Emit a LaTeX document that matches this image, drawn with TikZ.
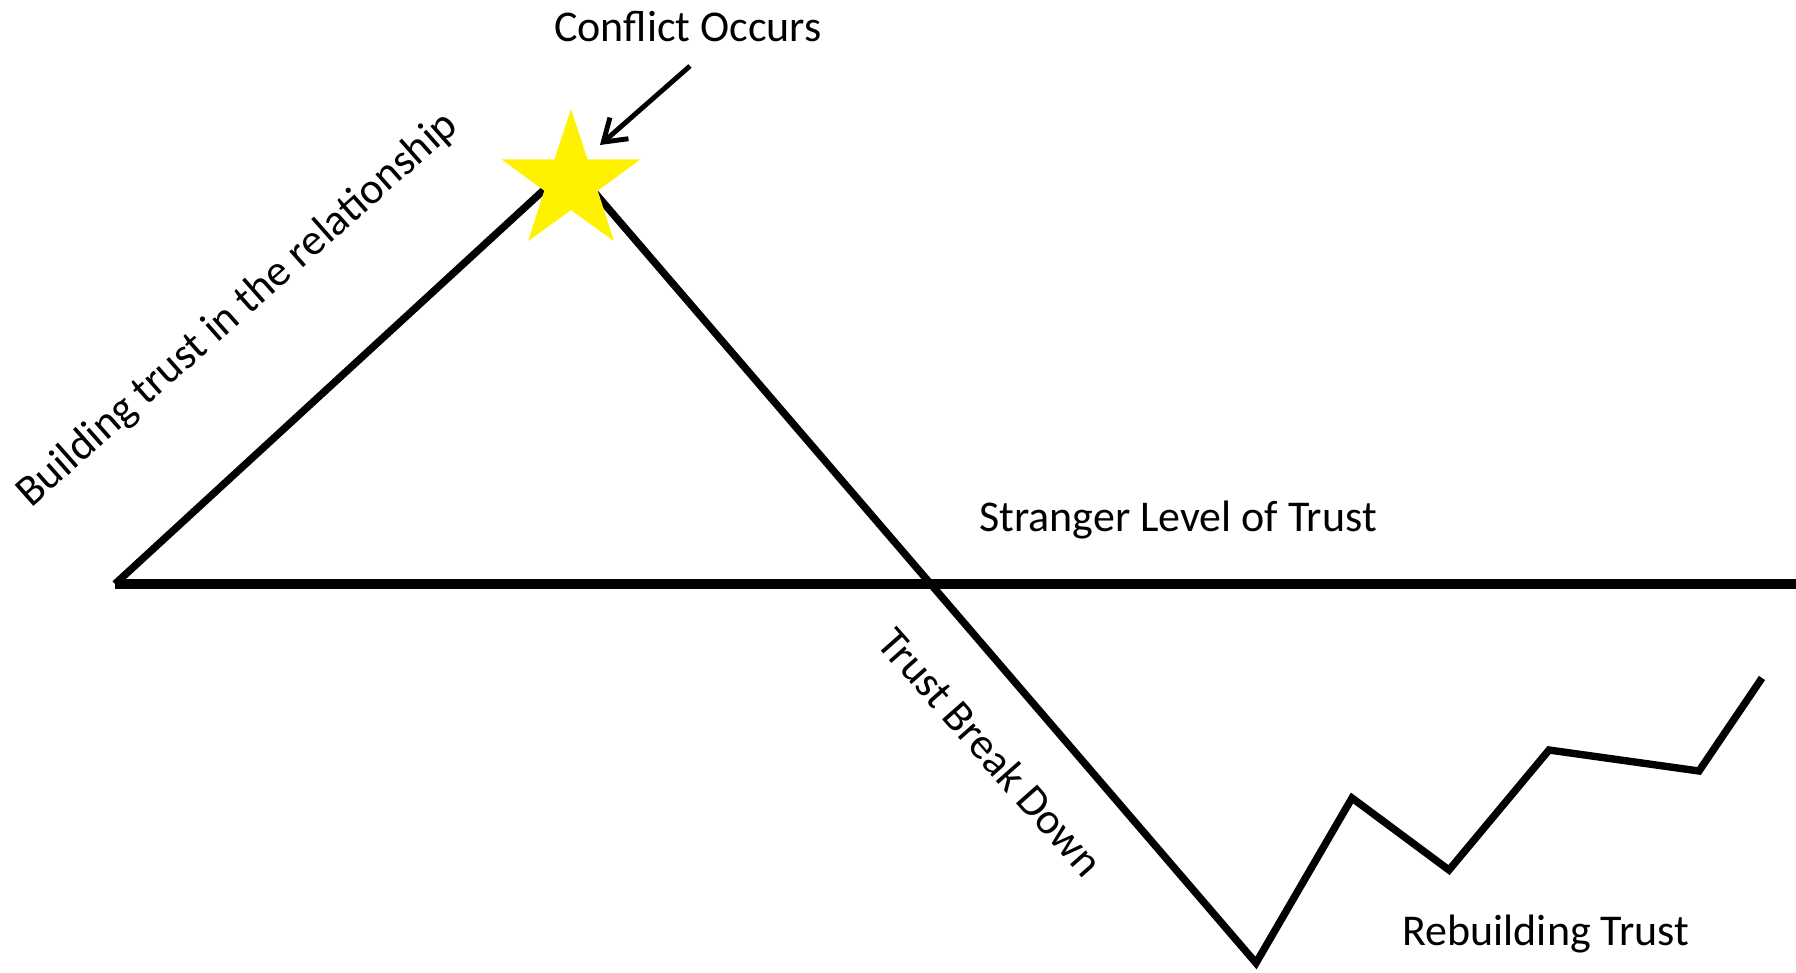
\documentclass[tikz,border=0pt]{standalone}
\usepackage{fontspec}
\setmainfont{Carlito}
\usetikzlibrary{arrows.meta,shapes.geometric}

\begin{document}
\begin{tikzpicture}[x=0.01cm, y=-0.01cm,
  lbl/.style={font=\fontsize{12.5}{15}\selectfont, inner sep=0pt},
  trend/.style={line width=2.1pt, line join=miter},
  base/.style={line width=3pt},
  starmark/.style={star, star points=5, star point ratio=2.6, fill=yellow, draw=none, minimum size=1.46cm, inner sep=0pt},
  arr/.style={-{Straight Barb[length=6pt,width=8pt]}, line width=1.4pt}
]
  \useasboundingbox (0,0) rectangle (1796,972);
  % points of the trust curve
  \coordinate (start) at (115,584);
  \coordinate (baseend) at (1796,584);
  \coordinate (peak) at (571,165);
  \coordinate (low) at (1256,963);
  \coordinate (r1) at (1352,798);
  \coordinate (r2) at (1449,870);
  \coordinate (r3) at (1549,750);
  \coordinate (r4) at (1699,771);
  \coordinate (r5) at (1762,678);
  \draw[base] (start) -- (baseend);
  \draw[trend] (start) -- (peak) -- (low) -- (r1) -- (r2) -- (r3) -- (r4) -- (r5);
  \node[starmark] (star) at (571,182) {};
  % labels
  \node[lbl] (conflict) at (688,27) {Conflict Occurs};
  \coordinate (tail) at (690,66);
  \coordinate (tip) at (600,145);
  \draw[arr] (tail) -- (tip);
  \node[lbl, rotate=41.5] (building) at (238,310) {Building trust in the relationship};
  \node[lbl] (stranger) at (1178,520) {Stranger Level of Trust};
  \node[lbl, rotate=-48.5] (breakdown) at (991,752) {Trust Break Down};
  \node[lbl] (rebuild) at (1546,934) {Rebuilding Trust};
\end{tikzpicture}
\end{document}
